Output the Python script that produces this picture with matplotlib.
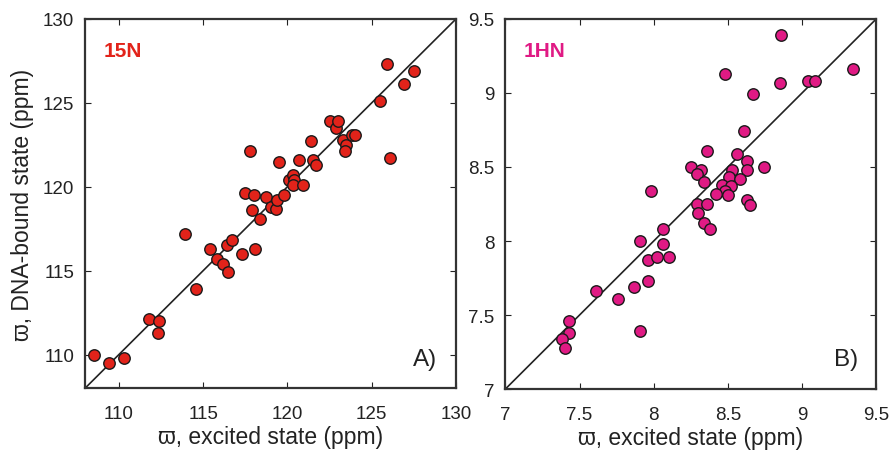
import matplotlib
matplotlib.use("Agg")
import matplotlib.pyplot as plt

plt.rcParams["font.family"] = ["Liberation Sans", "DejaVu Sans"]
narrow = ["Liberation Sans Narrow", "Liberation Sans", "DejaVu Sans"]

# 15N chemical shifts: excited state vs DNA-bound state (ppm)
n_exc = [108.5, 109.4, 110.3, 111.8, 112.4, 112.3, 113.9, 114.6, 115.4, 115.8,
         116.2, 116.5, 116.4, 116.7, 117.3, 118.1, 117.5, 118.0, 117.8, 117.9,
         118.4, 118.7, 119.0, 119.3, 119.4, 119.5, 119.8, 120.1, 120.3, 120.4,
         120.3, 120.9, 120.7, 121.4, 121.5, 121.7, 122.5, 122.9, 123.0, 123.3,
         123.5, 123.4, 123.8, 124.0, 125.5, 125.9, 126.1, 126.9, 127.5]
n_dna = [110.0, 109.5, 109.8, 112.1, 112.0, 111.3, 117.2, 113.9, 116.3, 115.7,
         115.4, 114.9, 116.5, 116.8, 116.0, 116.3, 119.6, 119.5, 122.1, 118.6,
         118.1, 119.4, 118.8, 118.7, 119.2, 121.5, 119.5, 120.4, 120.7, 120.4,
         120.1, 120.1, 121.6, 122.7, 121.6, 121.3, 123.9, 123.5, 123.9, 122.8,
         122.5, 122.1, 123.1, 123.1, 125.1, 127.3, 121.7, 126.1, 126.9]

# 1HN chemical shifts
h_exc = [8.86, 9.34, 9.04, 9.09, 8.85, 8.48, 8.67, 8.61, 8.36, 8.56,
         8.63, 8.74, 8.63, 8.25, 8.32, 8.29, 8.34, 8.53, 8.51, 8.58,
         8.46, 8.52, 8.48, 8.50, 8.42, 7.98, 8.29, 8.36, 8.63, 8.65,
         8.30, 8.34, 8.38, 8.06, 7.91, 8.06, 7.96, 8.02, 8.10, 7.96,
         7.87, 7.61, 7.76, 7.43, 7.43, 7.38, 7.40, 7.91]
h_dna = [9.39, 9.16, 9.08, 9.08, 9.07, 9.13, 8.99, 8.74, 8.61, 8.59,
         8.54, 8.50, 8.48, 8.50, 8.48, 8.45, 8.40, 8.48, 8.43, 8.42,
         8.38, 8.37, 8.34, 8.31, 8.32, 8.34, 8.25, 8.25, 8.28, 8.24,
         8.19, 8.12, 8.08, 8.08, 8.00, 7.98, 7.87, 7.89, 7.89, 7.73,
         7.69, 7.66, 7.61, 7.46, 7.38, 7.34, 7.28, 7.39]

panels = [
    dict(x=n_exc, y=n_dna, lim=(108, 130), ticks=[110, 115, 120, 125, 130],
         color="#e2231a", tag="15N", letter="A)"),
    dict(x=h_exc, y=h_dna, lim=(7, 9.5), ticks=[7, 7.5, 8, 8.5, 9, 9.5],
         color="#e01a84", tag="1HN", letter="B)"),
]
rects = [[0.095, 0.139, 0.414, 0.817], [0.564, 0.137, 0.414, 0.819]]

fig = plt.figure(figsize=(8.96, 4.52), dpi=100)
for i, (p, r) in enumerate(zip(panels, rects)):
    ax = fig.add_axes(r)
    lo, hi = p["lim"]
    ax.plot([lo, hi], [lo, hi], color="#222222", lw=1.2, zorder=1)
    ax.scatter(p["x"], p["y"], s=68, c=p["color"], edgecolors="#1a1a1a",
               linewidths=1.0, zorder=2)
    ax.set_xlim(lo, hi)
    ax.set_ylim(lo, hi)
    ax.set_xticks(p["ticks"])
    ax.set_yticks(p["ticks"])
    ax.set_xticklabels([f"{t:g}" for t in p["ticks"]])
    ax.set_yticklabels([f"{t:g}" for t in p["ticks"]])
    ax.tick_params(direction="in", top=True, right=True, length=4,
                   width=0.8, labelsize=13.5, colors="#222222")
    ax.tick_params(axis="x", pad=12)
    ax.tick_params(axis="y", pad=8)
    for s in ax.spines.values():
        s.set_linewidth(1.6)
        s.set_color("#333333")
    ax.set_xlabel("\u03d6, excited state (ppm)", fontsize=16.5,
                  family=narrow, color="#222222", labelpad=2)
    if i == 0:
        ax.set_ylabel("\u03d6, DNA-bound state (ppm)", fontsize=16.5,
                      color="#222222", labelpad=6)
    ax.text(0.05, 0.915, p["tag"], transform=ax.transAxes, fontsize=15,
            fontweight="bold", color=p["color"], va="center", ha="left")
    ax.text(0.95, 0.08, p["letter"], transform=ax.transAxes, fontsize=17.5,
            color="#222222", va="center", ha="right")

fig.savefig("out.png", dpi=100)
